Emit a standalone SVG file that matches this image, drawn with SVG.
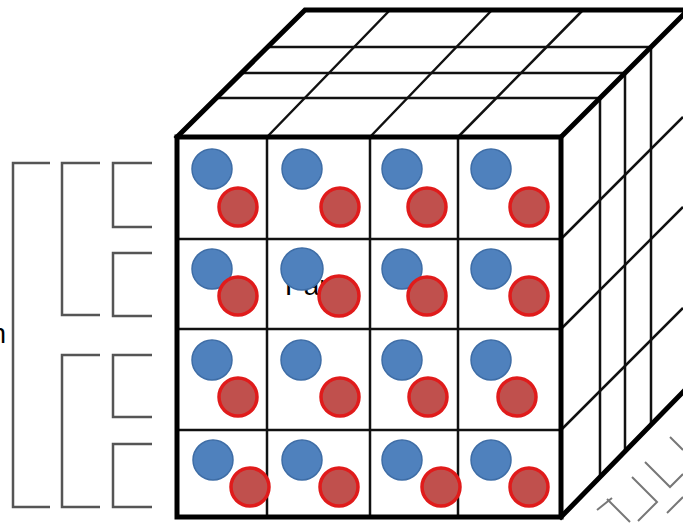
<svg xmlns="http://www.w3.org/2000/svg" width="683" height="523" viewBox="0 0 683 523">
<style>
.thick{stroke:#000;stroke-width:5;fill:none;stroke-linejoin:miter;stroke-linecap:square}
.thin{stroke:#111;stroke-width:2.5;fill:none}
.br{stroke:#555;stroke-width:2.5;fill:none}
.brr{stroke:#777;stroke-width:2;fill:none}
.b{fill:#4f81bd;stroke:#3e6da6;stroke-width:1.5}
.r{fill:#c0504d;stroke:#e01b1b;stroke-width:3.5}
.t{font-family:"Liberation Sans",Arial,sans-serif;fill:#000}
</style>
<rect width="683" height="523" fill="#fff"/>
<text class="t" x="6" y="343" font-size="27" text-anchor="end">n</text>
<g id="brackets">
<path class="br" d="M50,163 H13 V507 H50"/>
<path class="br" d="M100,163 H62 V315 H100 M100,355 H62 V507 H100"/>
<path class="br" d="M152,163 H113 V227 H152 M152,253 H113 V316 H152 M152,355 H113 V417 H152 M152,444 H113 V507 H152"/>
</g>
<g id="reflection">
<path class="brr" d="M645,462 L670,487 L683,474"/>
<path class="brr" d="M632,477 L657,502 L638,521"/>
<path class="brr" d="M670,437 L683,450"/>
<path class="brr" d="M607,499 L630,522"/>
<path class="brr" d="M667,513 L683,497"/>
<path class="brr" d="M597,510 L612,498"/>
</g>
<g id="cube">
<g id="top-face">
<path class="thin" d="M216,98 H600 M241,73 H625 M268,47 H651"/>
<path class="thin" d="M267,137 L390,10 M370,137 L492,10 M458,137 L583,10"/>
</g>
<g id="right-face">
<path class="thin" d="M600,98 V477 M625,73 V451 M651,47 V425"/>
<path class="thin" d="M561,239 L683,117 M561,329 L683,207 M561,430 L683,308"/>
</g>
<g id="front-face">
<path class="thin" d="M267,137 V517 M370,137 V517 M458,137 V517"/>
<path class="thin" d="M177,239 H561 M177,329 H561 M177,430 H561"/>
</g>
<g id="edges">
<rect class="thick" x="177" y="137" width="384" height="380"/>
<path class="thick" d="M177,137 L305,10 H690 M561,137 L688,10 M561,517 L683,392"/>
</g>
</g>
<text class="t" x="285" y="295" font-size="28">Part</text>
<g id="particles">
<g id="row1">
<circle class="b" cx="212" cy="169" r="20"/><circle class="r" cx="238" cy="207" r="19"/>
<circle class="b" cx="302" cy="169" r="20"/><circle class="r" cx="340" cy="207" r="19"/>
<circle class="b" cx="402" cy="169" r="20"/><circle class="r" cx="427" cy="207" r="19"/>
<circle class="b" cx="491" cy="169" r="20"/><circle class="r" cx="529" cy="207" r="19"/>
</g>
<g id="row2">
<circle class="b" cx="212" cy="269" r="20"/><circle class="r" cx="238" cy="296" r="19"/>
<circle class="b" cx="302" cy="269" r="21"/><circle class="r" cx="339" cy="296" r="20"/>
<circle class="b" cx="402" cy="269" r="20"/><circle class="r" cx="427" cy="296" r="19"/>
<circle class="b" cx="491" cy="269" r="20"/><circle class="r" cx="529" cy="296" r="19"/>
</g>
<g id="row3">
<circle class="b" cx="212" cy="360" r="20"/><circle class="r" cx="238" cy="397" r="19"/>
<circle class="b" cx="301" cy="360" r="20"/><circle class="r" cx="340" cy="397" r="19"/>
<circle class="b" cx="402" cy="360" r="20"/><circle class="r" cx="428" cy="397" r="19"/>
<circle class="b" cx="491" cy="360" r="20"/><circle class="r" cx="517" cy="397" r="19"/>
</g>
<g id="row4">
<circle class="b" cx="213" cy="460" r="20"/><circle class="r" cx="250" cy="487" r="19"/>
<circle class="b" cx="302" cy="460" r="20"/><circle class="r" cx="339" cy="487" r="19"/>
<circle class="b" cx="402" cy="460" r="20"/><circle class="r" cx="441" cy="487" r="19"/>
<circle class="b" cx="491" cy="460" r="20"/><circle class="r" cx="529" cy="487" r="19"/>
</g>
</g>
</svg>
